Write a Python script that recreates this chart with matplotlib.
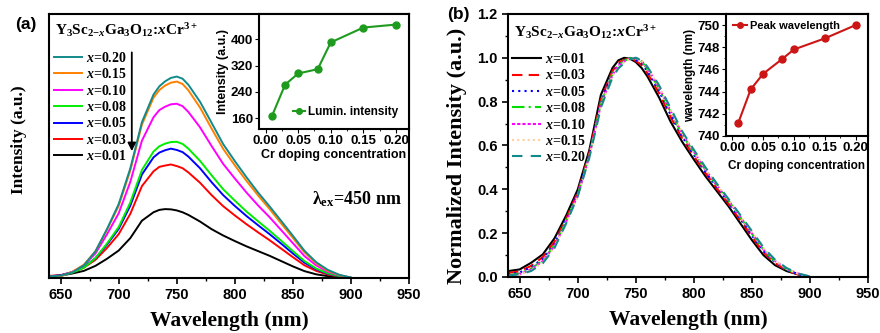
import matplotlib
matplotlib.use('Agg')
import matplotlib.pyplot as plt
from matplotlib.ticker import MultipleLocator

# ----------------------------------------
# data
# ----------------------------------------
wl = [640, 650, 660, 670, 680, 690, 700, 710, 720, 730, 735, 740, 745, 750, 755,
      760, 770, 780, 790, 800, 810, 820, 830, 840, 850, 860, 870, 880, 890, 900]

# emission intensity (a.u.) for each Cr content
I_001 = [7, 9, 17, 27, 46, 73, 104, 151, 217, 249, 258, 261, 260, 256, 249,
         239, 214, 185, 161, 140, 120, 102, 84, 64, 44, 26, 14, 7, 3, 0]
I_003 = [8, 11, 22, 39, 69, 114, 166, 243, 348, 404, 421, 426, 430, 424, 416,
         400, 361, 314, 272, 237, 204, 173, 143, 111, 79, 48, 27, 13, 5, 0]
I_005 = [6, 10, 22, 41, 75, 127, 186, 274, 392, 457, 475, 484, 490, 485, 477,
         460, 416, 363, 314, 273, 235, 200, 166, 130, 93, 58, 33, 16, 6, 0]
I_008 = [4, 8, 20, 39, 75, 131, 193, 286, 409, 479, 499, 509, 515, 516, 508,
         490, 444, 389, 336, 293, 252, 215, 179, 141, 102, 64, 36, 18, 7, 1]
I_010 = [4, 8, 23, 48, 93, 166, 245, 364, 520, 609, 636, 649, 658, 660, 651,
         629, 571, 500, 432, 377, 324, 275, 230, 181, 132, 83, 48, 24, 10, 1]
I_015 = [4, 7, 23, 50, 101, 183, 273, 407, 581, 683, 712, 729, 740, 744, 735,
         711, 646, 566, 489, 427, 368, 313, 261, 206, 152, 97, 56, 28, 11, 1]
I_020 = [6, 9, 21, 48, 101, 186, 280, 415, 590, 695, 726, 745, 758, 763, 755,
         732, 668, 588, 507, 443, 382, 324, 271, 216, 160, 103, 60, 31, 12, 2]

labels = ['0.01', '0.03', '0.05', '0.08', '0.10', '0.15', '0.20']
spectra = [I_001, I_003, I_005, I_008, I_010, I_015, I_020]
colors = ['black', '#FF0000', '#0000FF', '#00EE00', '#FF00FF', '#FF8000', '#138A8A']
styles_b = ['-', (0, (5, 3)), (0, (1, 2)), (0, (6, 2, 1, 2)), (0, (1.5, 1)), (0, (1, 1.5)), (0, (5, 4))]
colors_b = ['black', '#FF0000', '#0000FF', '#00DD00', '#FF00FF', '#FFD0A0', '#138A8A']

# inset data
cr = [0.01, 0.03, 0.05, 0.08, 0.10, 0.15, 0.20]
lumin = [168, 262, 296, 309, 390, 435, 444]
peak_wl = [741.2, 744.2, 745.6, 746.9, 747.8, 748.8, 750.0]

# ----------------------------------------
# style
# ----------------------------------------
plt.rcParams['font.family'] = ['Liberation Sans', 'DejaVu Sans']
plt.rcParams['font.weight'] = 'bold'
plt.rcParams['mathtext.fontset'] = 'custom'
plt.rcParams['mathtext.rm'] = 'Liberation Serif:bold'
plt.rcParams['mathtext.it'] = 'Liberation Serif:italic:bold'
plt.rcParams['mathtext.bf'] = 'Liberation Serif:bold'
plt.rcParams['axes.linewidth'] = 1.5

serif = dict(family='Liberation Serif', weight='bold')
title_txt = r'Y$_3$Sc$_{2\mathrm{-}x}$Ga$_3$O$_{12}$:$x$Cr$^{3+}$'

fig = plt.figure(figsize=(8.8, 3.33), dpi=100)
ax1 = fig.add_axes([49/880, 55/333, 360/880, 264/333])
ax2 = fig.add_axes([508/880, 56/333, 360/880, 263/333])


def style_main(ax):
    ax.set_xlim(640, 950)
    ax.xaxis.set_major_locator(MultipleLocator(50))
    ax.xaxis.set_minor_locator(MultipleLocator(25))
    ax.tick_params(which='major', direction='out', length=4, width=1.2, labelsize=10.5,
                   top=False, right=False)
    ax.tick_params(which='minor', direction='out', length=2, width=1.0, top=False, right=False)
    ax.set_xlabel('Wavelength (nm)', fontdict=dict(serif, size=15.5), labelpad=6)


# --- (a) raw spectra ---
for lab, y, c in zip(labels, spectra, colors):
    ax1.plot(wl, y, color=c, lw=1.4, label=r'$x$=' + lab)
style_main(ax1)
ax1.set_ylim(0, 1000)
ax1.set_yticks([])
ax1.set_ylabel('Intensity (a.u.)', fontdict=dict(serif, size=12.5))
ax1.yaxis.set_label_coords(-0.062, 0.523)
h, l = ax1.get_legend_handles_labels()
ax1.legend(h[::-1], l[::-1], loc='upper left', bbox_to_anchor=(0.014, 0.86), frameon=False,
           prop=dict(serif, size=10), handlelength=2.0, handletextpad=0.3,
           labelspacing=0.17, borderaxespad=0, borderpad=0)
ax1.text(0.017, 0.938, title_txt, transform=ax1.transAxes, fontdict=dict(serif, size=11),
         va='center', ha='left')
ax1.annotate('', xy=(0.23, 0.47), xytext=(0.23, 0.865), xycoords='axes fraction',
             arrowprops=dict(arrowstyle='-|>', color='black', lw=1.3, mutation_scale=12))
ax1.text(0.73, 0.30, 'λ$_{\\mathrm{ex}}$=450 nm', transform=ax1.transAxes,
         fontdict=dict(serif, size=13), va='center')
fig.text(15/880, 1 - 25/333, '(a)', fontsize=12.5, fontweight='bold', va='center')

# --- (b) normalized spectra ---
for lab, y, c, ls in zip(labels, spectra, colors_b, styles_b):
    top = max(y)
    ax2.plot(wl, [v / top for v in y], color=c, lw=1.5, ls=ls, label=r'$x$=' + lab)
style_main(ax2)
ax2.set_ylim(0, 1.2)
ax2.yaxis.set_major_locator(MultipleLocator(0.2))
ax2.yaxis.set_minor_locator(MultipleLocator(0.1))
ax2.set_ylabel('Normalized Intensity (a.u.)', fontdict=dict(serif, size=16))
ax2.yaxis.set_label_coords(-0.114, 0.46)
ax2.legend(loc='upper left', bbox_to_anchor=(0.011, 0.855), frameon=False,
           prop=dict(serif, size=10), handlelength=2.1, handletextpad=0.3,
           labelspacing=0.17, borderaxespad=0, borderpad=0)
ax2.text(0.017, 0.932, title_txt, transform=ax2.transAxes, fontdict=dict(serif, size=11),
         va='center', ha='left')
fig.text(447/880, 1 - 15/333, '(b)', fontsize=12.5, fontweight='bold', va='center')

# --- insets ---
in1 = fig.add_axes([259/880, 1 - 129/333, 150/880, 115/333])
in1.plot(cr, lumin, color='#1E9B1E', lw=1.5, marker='o', ms=5, label='Lumin. intensity')
in1.set_xlim(-0.01, 0.22)
in1.set_ylim(128, 476)
in1.set_xticks([0.0, 0.05, 0.10, 0.15, 0.20])
in1.set_yticks([160, 240, 320, 400])
in1.xaxis.set_minor_locator(MultipleLocator(0.025))
in1.tick_params(which='major', direction='out', length=3, labelsize=9.5, pad=1.5)
in1.tick_params(which='minor', direction='out', length=1.5)
in1.set_xlabel('Cr doping concentration', fontsize=9, fontweight='bold', labelpad=1)
in1.set_ylabel('Intensity (a.u.)', fontsize=9, fontweight='bold', labelpad=1)
in1.legend(loc='lower right', frameon=False, fontsize=8.5, handlelength=1.0,
           handletextpad=0.3, borderaxespad=0.5, markerscale=0.8)

in2 = fig.add_axes([726/880, 1 - 136/333, 142/880, 122/333])
in2.plot(cr, peak_wl, color='#CC1515', lw=1.5, marker='o', ms=5, label='Peak wavelength')
in2.set_xlim(-0.01, 0.22)
in2.set_ylim(740, 751)
in2.set_xticks([0.0, 0.05, 0.10, 0.15, 0.20])
in2.yaxis.set_major_locator(MultipleLocator(2))
in2.yaxis.set_minor_locator(MultipleLocator(1))
in2.xaxis.set_minor_locator(MultipleLocator(0.025))
in2.tick_params(which='major', direction='out', length=3, labelsize=9.5, pad=1.5)
in2.tick_params(which='minor', direction='out', length=1.5)
in2.set_xlabel('Cr doping concentration', fontsize=8.5, fontweight='bold', labelpad=4)
in2.set_ylabel('wavelength (nm)', fontsize=8.5, fontweight='bold', labelpad=1)
in2.legend(loc='upper left', frameon=False, fontsize=8, handlelength=1.2,
           handletextpad=0.3, borderaxespad=0.25, markerscale=0.8)

fig.savefig('out.png', dpi=100)
